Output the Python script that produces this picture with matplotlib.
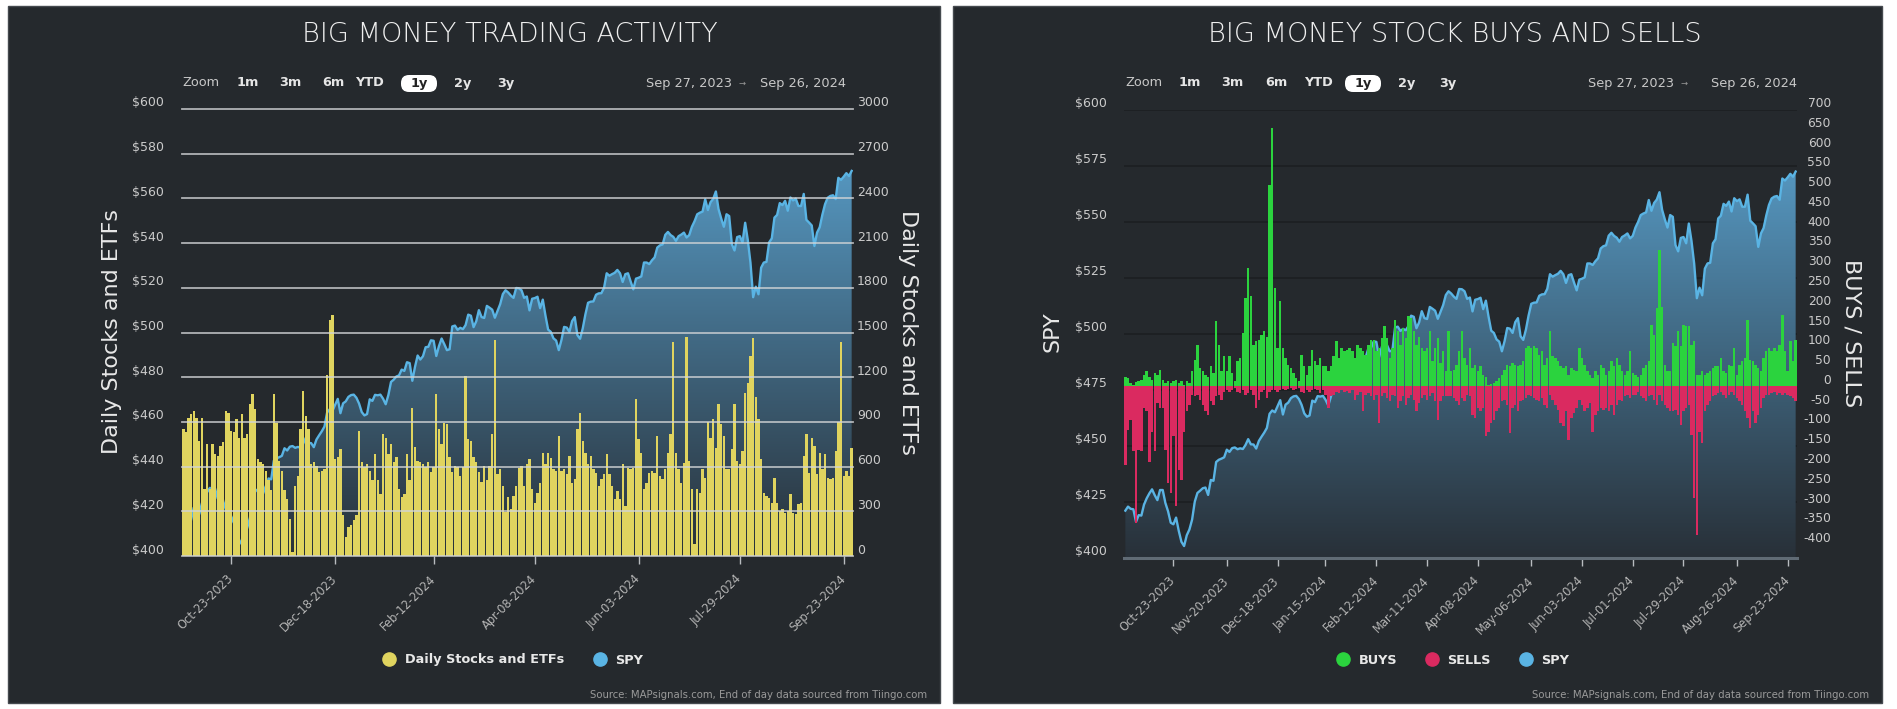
import numpy as np
import pandas as pd
import matplotlib
matplotlib.use("Agg")
import matplotlib.pyplot as plt
from matplotlib.patches import Rectangle, FancyBboxPatch, PathPatch
from matplotlib.path import Path
from matplotlib.lines import Line2D
from matplotlib.transforms import IdentityTransform, ScaledTranslation, blended_transform_factory

plt.rcParams['font.family'] = ['DejaVu Sans']

# ---------------- data ----------------
holidays = ['2023-11-23', '2023-12-25', '2024-01-01', '2024-01-15', '2024-02-19',
            '2024-03-29', '2024-05-27', '2024-06-19', '2024-07-04', '2024-09-02']
dates = pd.bdate_range('2023-09-27', '2024-09-26')
dates = dates[~dates.isin(pd.to_datetime(holidays))]

spy = [
    421.0, 422.8, 421.8,
    421.6, 416.0, 419.0, 418.8, 423.7,
    426.5, 428.7, 430.5, 427.9, 425.7,
    430.2, 430.2, 424.4, 420.7, 415.6,
    414.9, 417.9, 412.0, 407.1, 405.2,
    410.0, 412.6, 417.0, 425.0, 428.9,
    429.9, 431.0, 431.3, 428.0, 434.7,
    434.3, 442.7, 443.7, 444.2, 444.8,
    448.2, 447.2, 448.9, 449.2,
    448.4, 448.8, 448.5, 450.3, 452.9,
    450.6, 450.5, 448.7, 452.1, 454.0,
    455.8, 457.9, 464.2, 465.7, 464.9,
    467.6, 470.3, 463.9, 468.3, 469.2,
    471.2, 472.0, 472.2, 470.8,
    468.2, 464.4, 462.9, 463.5,
    470.1, 469.4, 472.1, 471.9, 472.2,
    470.4, 467.9, 472.0, 477.9,
    478.9, 480.3, 480.8, 483.4, 482.8,
    486.7, 486.3, 478.4, 484.6, 489.7,
    487.9, 489.4, 493.4, 493.6, 496.5,
    496.3, 489.5, 493.9, 497.3, 494.8,
    492.1, 492.5, 502.7, 503.1,
    501.2, 502.1, 501.5, 503.3, 508.0,
    507.5, 502.4, 505.0, 510.0, 506.9,
    506.5, 511.9, 511.1, 510.2, 506.6,
    509.7, 512.7, 517.2, 518.9, 517.9,
    516.5, 515.5, 519.9, 519.8,
    518.9, 515.5, 516.1, 509.9, 515.1,
    515.4, 516.0, 510.9, 514.7, 507.6,
    501.3, 500.3, 497.4, 496.4, 492.1,
    496.6, 502.5, 502.2, 500.3, 505.1,
    506.9, 498.8, 497.2, 501.8, 508.1,
    513.3, 513.8, 513.9, 516.9, 517.5,
    517.6, 520.0, 526.5, 525.4, 526.1,
    526.7, 528.0, 526.5, 522.6, 526.1,
    526.5, 522.8, 519.3, 524.1,
    524.5, 525.1, 531.3, 531.3, 530.6,
    532.3, 533.6, 538.0, 539.0, 539.4,
    543.7, 545.0, 543.6, 542.8,
    541.0, 543.1, 543.8, 544.7, 542.5,
    543.6, 547.3, 549.8, 552.9,
    553.6, 554.1, 559.6, 554.8, 558.3,
    559.8, 563.1, 555.2, 551.0, 547.3,
    552.9, 552.1, 539.5, 536.7, 542.7,
    543.1, 540.3, 549.1, 541.3, 531.2,
    515.8, 520.5, 517.1, 529.0, 531.3,
    531.6, 540.3, 542.1, 551.4, 552.6,
    557.9, 557.0, 558.9, 554.5, 560.4,
    559.1, 559.9, 556.6, 556.6, 562.0,
    550.4, 549.2, 547.9, 538.7,
    544.7, 547.1, 552.7, 557.4, 560.3,
    561.1, 561.4, 559.7, 569.2, 568.3,
    569.7, 571.3, 570.0, 572.3,
]

activity = [
    851, 829, 929, 951, 973, 929, 773, 929, 451, 751,
    451, 755, 684, 673, 740, 762, 973, 962, 840, 829,
    918, 795, 951, 795, 818, 1018, 1084, 984, 651, 629,
    618, 573, 507, 440, 1084, 895, 640, 573, 440, 384,
    251, 29, 473, 540, 851, 1107, 940, 851, 618, 629,
    607, 562, 573, 584, 1218, 1584, 1618, 651, 662, 718,
    273, 129, 196, 207, 240, 273, 840, 629, 596, 618,
    573, 507, 684, 507, 418, 818, 795, 684, 751, 629,
    662, 451, 396, 418, 684, 507, 995, 729, 640, 629,
    618, 596, 629, 562, 596, 1084, 851, 751, 895, 884,
    662, 562, 607, 596, 540, 596, 1207, 784, 773, 662,
    629, 562, 495, 607, 507, 607, 818, 1451, 551, 584,
    473, 296, 396, 313, 403, 470, 593, 605, 470, 616,
    649, 448, 358, 425, 493, 694, 616, 694, 660, 582,
    571, 806, 571, 582, 549, 672, 493, 515, 851, 963,
    772, 694, 616, 672, 582, 560, 470, 515, 549, 683,
    549, 470, 381, 437, 381, 616, 336, 593, 582, 593,
    1057, 784, 694, 448, 493, 560, 571, 560, 806, 537,
    515, 582, 694, 817, 1433, 694, 582, 493, 627, 1471,
    638, 448, 78, 448, 425, 582, 526, 896, 795, 918,
    728, 1019, 884, 806, 582, 582, 716, 1019, 638, 616,
    705, 1097, 1164, 1343, 1462, 1064, 918, 649, 425, 403,
    392, 358, 526, 358, 302, 313, 291, 302, 414, 291,
    280, 347, 358, 672, 817, 560, 795, 739, 549, 694,
    582, 683, 526, 515, 526, 705, 896, 1437, 537, 571,
    537, 728,
]

buys = [
    25, 21, 8, 4, 10, 13, 17, 30, 38, 25,
    17, 34, 30, 42, 17, 8, 13, 8, 13, 17,
    8, 13, 4, 13, 8, 38, 67, 105, 46, 38,
    30, 25, 51, 34, 166, 105, 38, 76, 38, 76,
    34, 13, 63, 72, 135, 223, 299, 228, 105, 114,
    118, 131, 139, 126, 510, 653, 249, 97, 215, 97,
    72, 55, 46, 34, 21, 13, 80, 51, 30, 51,
    93, 63, 55, 72, 51, 51, 38, 51, 76, 115,
    72, 97, 89, 93, 97, 89, 72, 105, 97, 89,
    80, 105, 118, 118, 89, 97, 122, 152, 122, 72,
    97, 169, 139, 105, 148, 122, 177, 173, 139, 105,
    126, 97, 89, 97, 139, 63, 97, 122, 59, 89,
    38, 139, 38, 42, 55, 89, 139, 72, 55, 97,
    46, 55, 38, 51, 30, 25, 4, 6, 8, 13,
    21, 30, 42, 55, 51, 59, 55, 51, 55, 63,
    97, 101, 97, 101, 97, 80, 89, 55, 72, 139,
    76, 72, 63, 51, 46, 51, 30, 46, 42, 38,
    97, 72, 55, 38, 30, 21, 38, 30, 55, 46,
    30, 38, 63, 51, 72, 55, 38, 30, 38, 89,
    34, 30, 25, 30, 46, 55, 63, 156, 131, 198,
    345, 202, 55, 38, 38, 110, 101, 139, 101, 156,
    152, 152, 105, 114, 30, 30, 38, 30, 34, 38,
    46, 51, 51, 72, 38, 34, 55, 51, 97, 30,
    55, 63, 72, 169, 67, 63, 55, 46, 38, 72,
    89, 97, 89, 97, 89, 105, 181, 89, 38, 114,
    63, 118,
]

sells = [
    -198, -110, -84, -164, -346, -160, -164, -55, -63, -190,
    -114, -164, -42, -55, -55, -160, -244, -270, -126, -303,
    -211, -236, -114, -63, -46, -21, -25, -21, -34, -46,
    -63, -72, -38, -46, -25, -21, -34, -13, -8, -13,
    -8, -4, -13, -17, -8, -21, -17, -8, -21, -55,
    -34, -13, -8, -30, -13, -8, -8, -13, -8, -6,
    -8, -6, -4, -8, -6, -4, -13, -17, -8, -13,
    -8, -6, -8, -17, -8, -21, -55, -25, -21, -13,
    -17, -8, -13, -11, -17, -8, -34, -21, -13, -63,
    -21, -17, -25, -34, -21, -93, -25, -17, -30, -38,
    -21, -25, -55, -38, -25, -46, -30, -21, -34, -63,
    -42, -30, -21, -34, -25, -17, -38, -84, -38, -25,
    -25, -25, -25, -30, -38, -46, -30, -38, -21, -25,
    -72, -80, -55, -63, -55, -126, -114, -93, -84, -63,
    -55, -38, -34, -46, -118, -55, -46, -63, -38, -34,
    -30, -21, -25, -30, -34, -38, -30, -46, -55, -21,
    -34, -46, -59, -93, -101, -63, -135, -80, -67, -55,
    -34, -46, -63, -55, -42, -114, -72, -63, -55, -59,
    -55, -63, -46, -72, -46, -34, -38, -25, -21, -30,
    -21, -21, -13, -25, -30, -38, -25, -21, -34, -46,
    -21, -38, -46, -55, -63, -63, -59, -72, -97, -63,
    -55, -46, -122, -282, -375, -114, -143, -63, -46, -38,
    -25, -21, -17, -13, -21, -30, -21, -13, -21, -30,
    -38, -46, -63, -80, -105, -63, -93, -72, -55, -30,
    -21, -21, -17, -13, -21, -17, -21, -17, -21, -25,
    -30, -38,
]

left_ticks = ['2023-10-23', '2023-12-18', '2024-02-12', '2024-04-08',
              '2024-06-03', '2024-07-29', '2024-09-23']
right_ticks = ['2023-10-23', '2023-11-20', '2023-12-18', '2024-01-15', '2024-02-12',
               '2024-03-11', '2024-04-08', '2024-05-06', '2024-06-03', '2024-07-01',
               '2024-07-29', '2024-08-26', '2024-09-23']

spy_left_ticks = list(range(400, 601, 20))
act_ticks = list(range(0, 3001, 300))
spy_right_ticks = list(range(400, 601, 25))
bs_ticks = list(range(-400, 701, 50))

# ---------------- style ----------------
W, H, DPI = 1897, 709, 100
BG = '#25292d'
YELLOW = '#e0d45f'
BLUE = '#5ab4e4'
GREEN = '#2bd33e'
RED = '#da2a60'
TXT = '#e8e8e8'
TICKC = '#cbcbcb'
XTC = '#b4b4b4'

fig = plt.figure(figsize=(W / DPI, H / DPI), dpi=DPI)
fig.patch.set_facecolor('white')


def fx(x):
    return x / W


def fy(y):
    return 1 - y / H


for x0, x1 in [(8, 940), (953, 1882)]:
    fig.add_artist(Rectangle((fx(x0), fy(703)), (x1 - x0) / W, (703 - 6) / H,
                             transform=fig.transFigure, facecolor=BG,
                             edgecolor='#454a4f', lw=1.0, zorder=0))

idx = np.arange(len(spy))
n = len(spy)
date_num = dates.values.astype('int64').astype(float)


def tick_positions(tlist):
    t = pd.to_datetime(tlist).values.astype('int64').astype(float)
    return np.interp(t, date_num, idx.astype(float))


def make_axes(x0, x1, ytop, ybot):
    ax = fig.add_axes([fx(x0), fy(ybot), (x1 - x0) / W, (ybot - ytop) / H])
    ax.set_facecolor('none')
    for s in ax.spines.values():
        s.set_visible(False)
    ax2 = ax.twinx()
    ax2.set_facecolor('none')
    for s in ax2.spines.values():
        s.set_visible(False)
    return ax, ax2


def spy_area(ax, x, y, ymin, ymax):
    xs = np.asarray(x, float)
    ys = np.asarray(y, float)
    verts = np.vstack([np.column_stack([xs, ys]), [[xs[-1], ymin], [xs[0], ymin]]])
    path = Path(np.vstack([verts, verts[:1]]), closed=True)
    patch = PathPatch(path, facecolor='none', edgecolor='none')
    ax.add_patch(patch)
    t = np.linspace(0, 1, 256)[:, None, None]
    top = np.array([92, 166, 212]) / 255.0
    bot = np.array([40, 48, 56]) / 255.0
    img = top * (1 - t) + bot * t
    im = ax.imshow(img, extent=[xs[0], xs[-1], ymin, ymax], origin='upper',
                   aspect='auto', zorder=1, interpolation='bilinear')
    im.set_clip_path(patch)
    ax.plot(xs, ys, color=BLUE, lw=1.7, zorder=2, solid_joinstyle='round')


def ylabels(ax, vals, fmt, xa, dx_px, ha, size=9):
    off = ScaledTranslation(dx_px / DPI, 6 / DPI, fig.dpi_scale_trans)
    tr = blended_transform_factory(ax.transAxes, ax.transData) + off
    for v in vals:
        ax.text(xa, v, fmt(v), transform=tr, ha=ha, va='center',
                fontsize=size, color=TICKC)


def xticks(ax, tlist):
    pos = tick_positions(tlist)
    labs = [pd.Timestamp(t).strftime('%b-%d-%Y') for t in tlist]
    ax.set_xticks(pos)
    ax.set_xticklabels(labs, rotation=45, ha='right', va='center',
                       rotation_mode='anchor', fontsize=8.3, color=XTC)
    ax.tick_params(axis='x', length=6, width=1, color='#b8bcc0', pad=9, direction='out')
    ax.tick_params(axis='y', left=False, right=False, labelleft=False, labelright=False)


# ---------------- left chart ----------------
axL, axL2 = make_axes(182, 853, 109, 556)
spy_area(axL, idx, spy, 400, 600)
axL.set_xlim(-0.5, n - 0.5)
axL.set_ylim(400, 600)
axL2.set_ylim(0, 3000)
axL2.bar(idx, activity, width=0.88, color=YELLOW, linewidth=0, zorder=3)
for v in act_ticks:
    axL2.axhline(v, color='#d2d4d6', lw=1.3, alpha=0.8, zorder=4, clip_on=False)
xticks(axL, left_ticks)
axL2.tick_params(axis='y', right=False, labelright=False)
ylabels(axL, spy_left_ticks, lambda v: f'${v}', 0, -18, 'right')
ylabels(axL2, act_ticks, lambda v: f'{v}', 1, 4, 'left')

# ---------------- right chart ----------------
axR, axR2 = make_axes(1124, 1797, 109.5, 557.7)
for v in spy_right_ticks:
    axR.axhline(v, color='#1b1e21', lw=1.1, zorder=0.5)
spy_area(axR, idx, spy, 400, 600)
axR.set_xlim(-0.5, n - 0.5)
axR.set_ylim(400, 600)
axR.axhline(400, color='#606b75', lw=2.2, zorder=5, clip_on=False)
axR2.set_ylim(-433, 700)
axR2.bar(idx, buys, width=0.9, color=GREEN, linewidth=0, zorder=3)
axR2.bar(idx, sells, width=0.9, color=RED, linewidth=0, zorder=3)
xticks(axR, right_ticks)
axR2.tick_params(axis='y', right=False, labelright=False)
ylabels(axR, spy_right_ticks, lambda v: f'${v}', 0, -17, 'right')
ylabels(axR2, bs_ticks, lambda v: f'{v}', 1, 34, 'right', size=8.8)

# ---------------- texts ----------------
fig.text(fx(510), fy(34), 'BIG MONEY TRADING ACTIVITY', ha='center', va='center',
         fontsize=19.5, color='#efefef', fontweight='light')
fig.text(fx(1455), fy(34), 'BIG MONEY STOCK BUYS AND SELLS', ha='center', va='center',
         fontsize=19.5, color='#efefef', fontweight='light')

fig.text(fx(112), fy(332), 'Daily Stocks and ETFs', rotation=90, ha='center', va='center',
         fontsize=16, color=TXT)
fig.text(fx(908), fy(333), 'Daily Stocks and ETFs', rotation=270, ha='center', va='center',
         fontsize=16, color=TXT)
fig.text(fx(1053), fy(332), 'SPY', rotation=90, ha='center', va='center',
         fontsize=16, color=TXT)
fig.text(fx(1852), fy(333), 'BUYS / SELLS', rotation=270, ha='center', va='center',
         fontsize=16, color=TXT)

src = 'Source: MAPsignals.com, End of day data sourced from Tiingo.com'
fig.text(fx(927), fy(695), src, ha='right', va='center', fontsize=7.3, color='#9a9a9a')
fig.text(fx(1869), fy(695), src, ha='right', va='center', fontsize=7.3, color='#9a9a9a')

# range selector rows
zoom_buttons = ['1m', '3m', '6m', 'YTD', '1y', '2y', '3y']


def range_row(xzoom, xbtn, box, d1_right, arrow_x, d2_right):
    yc = 83
    fig.text(fx(xzoom), fy(yc), 'Zoom', ha='left', va='center', fontsize=9.3, color='#c8c8c8')
    for lab, xb in zip(zoom_buttons, xbtn):
        if lab == '1y':
            fig.add_artist(FancyBboxPatch((box[0], H - 92), box[1] - box[0], 17,
                                          boxstyle='round,pad=0,rounding_size=8',
                                          transform=IdentityTransform(),
                                          facecolor='white', edgecolor='none', zorder=3))
            fig.text(fx((box[0] + box[1]) / 2), fy(yc), lab, ha='center', va='center',
                     fontsize=9.3, color='#222222', fontweight='bold', zorder=4)
        else:
            fig.text(fx(xb), fy(yc), lab, ha='left', va='center', fontsize=9.3,
                     color='#e6e6e6', fontweight='bold')
    fig.text(fx(d1_right), fy(yc), 'Sep 27, 2023', ha='right', va='center',
             fontsize=9.3, color='#c8c8c8')
    fig.text(fx(arrow_x), fy(yc), '→', ha='center', va='center', fontsize=6, color='#9a9a9a')
    fig.text(fx(d2_right), fy(yc), 'Sep 26, 2024', ha='right', va='center',
             fontsize=9.3, color='#c8c8c8')


range_row(182, [237, 279, 322, 355, 0, 454, 497], (401, 437), 732, 742, 846)
range_row(1125, [1179, 1221, 1265, 1304, 0, 1398, 1439], (1345, 1381), 1674, 1684, 1797)

# legends
hL = [Line2D([], [], ls='', marker='o', ms=9.5, mfc=YELLOW, mec=YELLOW),
      Line2D([], [], ls='', marker='o', ms=9.5, mfc=BLUE, mec=BLUE)]
fig.legend(hL, ['Daily Stocks and ETFs', 'SPY'], loc='center',
           bbox_to_anchor=(fx(513), fy(660)), ncol=2, frameon=False,
           prop={'weight': 'bold', 'size': 9.3}, labelcolor='#e8e8e8',
           handletextpad=0.7, columnspacing=2.3, handlelength=1.0)
hR = [Line2D([], [], ls='', marker='o', ms=9.5, mfc=GREEN, mec=GREEN),
      Line2D([], [], ls='', marker='o', ms=9.5, mfc=RED, mec=RED),
      Line2D([], [], ls='', marker='o', ms=9.5, mfc=BLUE, mec=BLUE)]
fig.legend(hR, ['BUYS', 'SELLS', 'SPY'], loc='center',
           bbox_to_anchor=(fx(1453), fy(660)), ncol=3, frameon=False,
           prop={'weight': 'bold', 'size': 9.3}, labelcolor='#e8e8e8',
           handletextpad=0.7, columnspacing=2.2, handlelength=1.0)

fig.savefig('out.png', dpi=DPI, facecolor='white')
